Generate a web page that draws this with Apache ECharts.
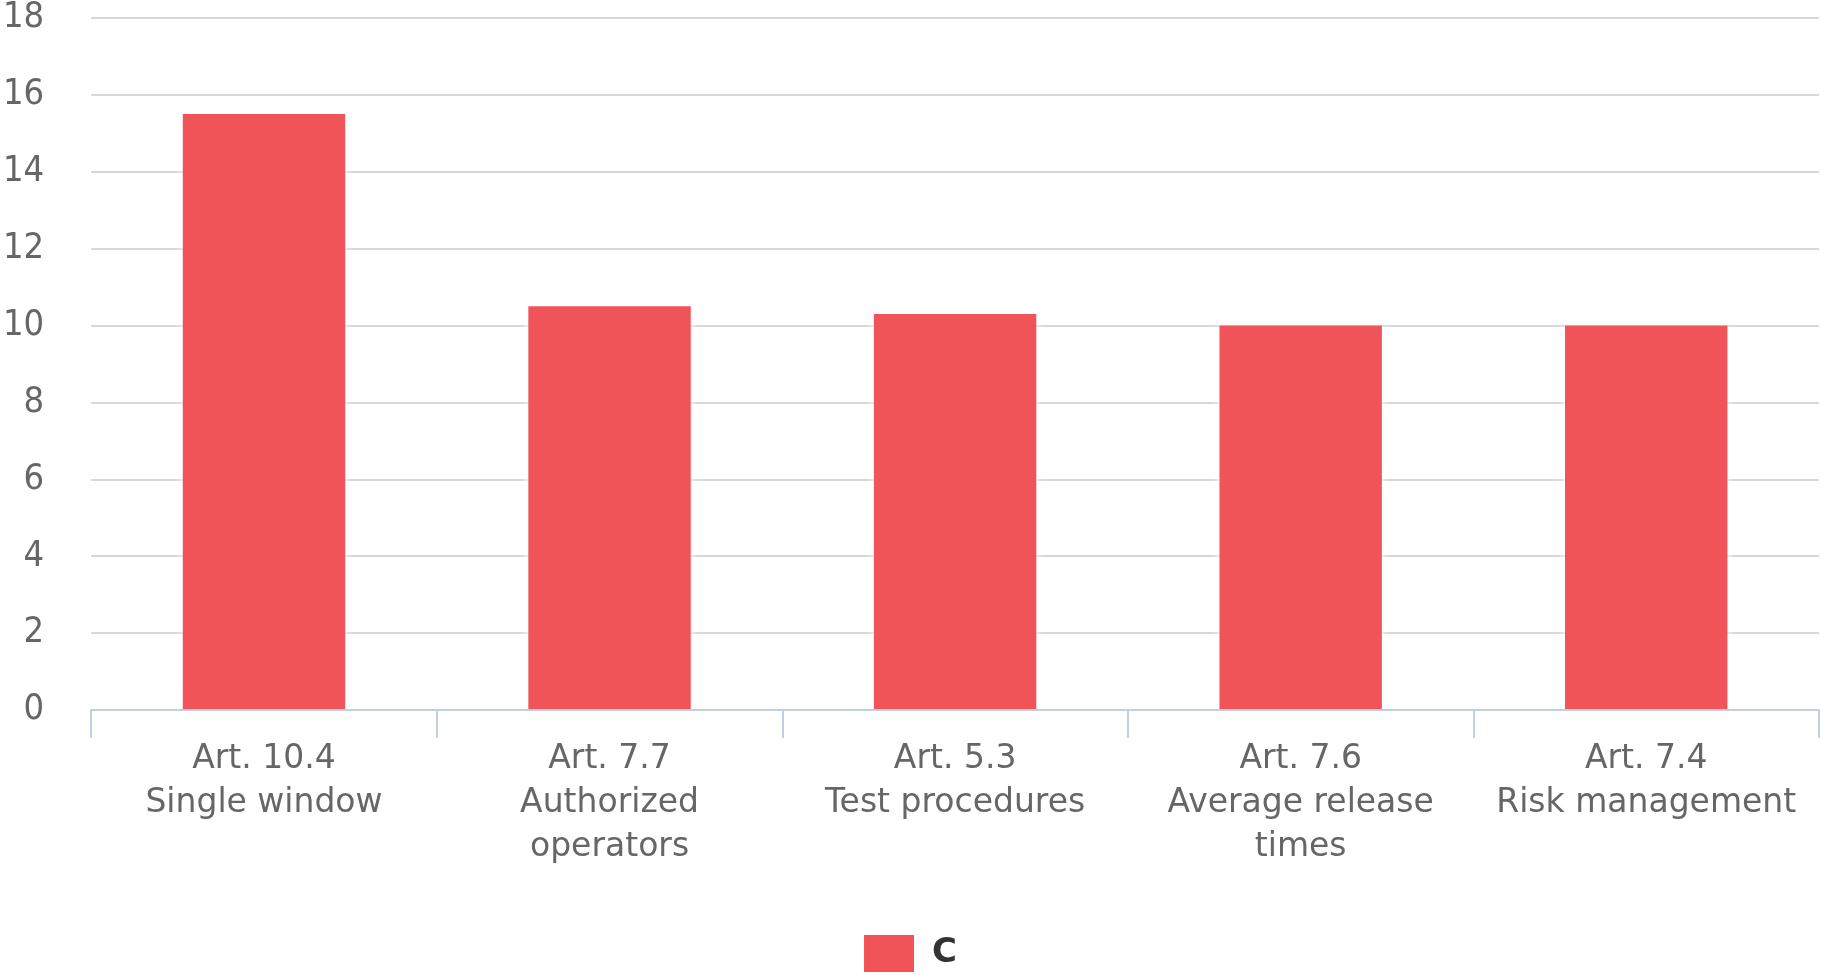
<!DOCTYPE html>
<html>
<head>
<meta charset="utf-8">
<title>Chart</title>
<script src="https://cdn.jsdelivr.net/npm/echarts@6/dist/echarts.min.js"></script>
<style>
  html, body { margin: 0; padding: 0; background: #fff; }
  #chart { width: 1821px; height: 975px; }
</style>
</head>
<body>
<div id="chart"></div>
<script>
// 数据
var categories = [
  'Art. 10.4\nSingle window',
  'Art. 7.7\nAuthorized\noperators',
  'Art. 5.3\nTest procedures',
  'Art. 7.6\nAverage release\ntimes',
  'Art. 7.4\nRisk management'
];
var seriesName = 'C';
var seriesValues = [15.5, 10.5, 10.3, 10, 10];
var yTicks = { min: 0, max: 18, interval: 2 };

var font = "'DejaVu Sans', sans-serif";
var fontNarrow = "'DejaVu Sans Condensed', 'DejaVu Sans', sans-serif";

var chart = echarts.init(document.getElementById('chart'));

chart.setOption({
  animation: false,
  grid: {
    left: 90,
    right: 2,
    top: 16,
    bottom: 265
  },
  legend: {
    top: 930,
    left: 'center',
    icon: 'rect',
    itemWidth: 50,
    itemHeight: 37,
    textStyle: {
      fontFamily: font,
      fontSize: 34,
      fontWeight: 'bold',
      color: '#333',
      padding: [0, 0, 0, 13]
    },
    data: [seriesName]
  },
  xAxis: {
    type: 'category',
    data: categories,
    z: 3,
    axisLine: { lineStyle: { color: '#c0d0e0', width: 2 } },
    axisTick: { show: true, length: 28, lineStyle: { color: '#c0d0e0', width: 2 } },
    axisLabel: {
      interval: 0,
      margin: 27,
      fontFamily: font,
      fontSize: 33,
      lineHeight: 44,
      color: '#666'
    }
  },
  yAxis: {
    type: 'value',
    min: yTicks.min,
    max: yTicks.max,
    interval: yTicks.interval,
    axisLine: { show: false },
    axisTick: { show: false },
    splitLine: { lineStyle: { color: '#d8d8d8', width: 2 } },
    axisLabel: {
      margin: 47,
      fontFamily: fontNarrow,
      fontSize: 36,
      color: '#666'
    }
  },
  series: [{
    name: seriesName,
    type: 'bar',
    data: seriesValues,
    barWidth: '47%',
    itemStyle: {
      color: '#f05458',
      shadowColor: '#fff',
      shadowBlur: 8
    }
  }]
});
</script>
</body>
</html>
